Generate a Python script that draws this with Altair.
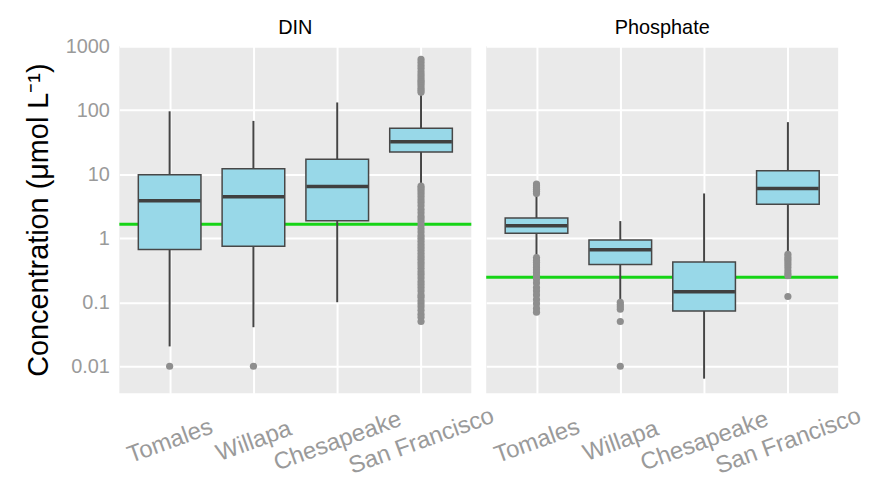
import altair as alt
import pandas as pd

sites = ["Tomales", "Willapa", "Chesapeake", "San Francisco"]
params = ["DIN", "Phosphate"]

# box statistics per parameter (order follows `sites`)
din_lo = [0.0204, 0.0407, 0.10, 6.9]
din_q1 = [0.665, 0.75, 1.87, 22.3]
din_med = [3.85, 4.45, 6.4, 32.0]
din_q3 = [9.8, 12.2, 17.1, 52.0]
din_hi = [96.0, 68.0, 132.0, 180.0]

po4_lo = [0.55, 0.112, 0.0064, 0.63]
po4_q1 = [1.19, 0.39, 0.073, 3.4]
po4_med = [1.57, 0.66, 0.146, 6.0]
po4_q3 = [2.06, 0.94, 0.425, 11.3]
po4_hi = [4.6, 1.85, 5.0, 65.0]

# outliers
din_out_tomales = [0.01]
din_out_willapa = [0.01]
din_out_chesapeake = []
din_out_sf = [620, 560, 500, 450, 400, 360, 330, 300, 280, 260, 240, 220, 205, 190,
              6.5, 6.0, 5.5, 5.0, 4.5, 4.0, 3.6, 3.2, 2.8, 2.5, 2.2, 2.0, 1.8, 1.6,
              1.4, 1.25, 1.1, 1.0, 0.9, 0.8, 0.72, 0.65, 0.58, 0.52, 0.47, 0.42,
              0.38, 0.34, 0.3, 0.27, 0.24, 0.21, 0.19, 0.17, 0.15, 0.13, 0.12,
              0.105, 0.095, 0.085, 0.075, 0.065, 0.058, 0.05]
po4_out_tomales = [7.0, 6.6, 6.2, 5.8, 5.4, 5.0,
                   0.5, 0.45, 0.42, 0.38, 0.35, 0.32, 0.29, 0.26, 0.23, 0.2, 0.17,
                   0.15, 0.13, 0.11, 0.095, 0.08, 0.07]
po4_out_willapa = [0.1, 0.092, 0.085, 0.078, 0.05, 0.01]
po4_out_chesapeake = []
po4_out_sf = [0.56, 0.51, 0.47, 0.43, 0.39, 0.35, 0.31, 0.28, 0.26, 0.123]

thresholds = [1.65, 0.245]

rows = []
stats = {"DIN": (din_lo, din_q1, din_med, din_q3, din_hi),
         "Phosphate": (po4_lo, po4_q1, po4_med, po4_q3, po4_hi)}
for p in params:
    lo, q1, med, q3, hi = stats[p]
    for i, s in enumerate(sites):
        rows.append(dict(kind="box", param=p, site=s, lo=lo[i], q1=q1[i],
                         med=med[i], q3=q3[i], hi=hi[i]))
outs = {("DIN", "Tomales"): din_out_tomales, ("DIN", "Willapa"): din_out_willapa,
        ("DIN", "Chesapeake"): din_out_chesapeake, ("DIN", "San Francisco"): din_out_sf,
        ("Phosphate", "Tomales"): po4_out_tomales, ("Phosphate", "Willapa"): po4_out_willapa,
        ("Phosphate", "Chesapeake"): po4_out_chesapeake,
        ("Phosphate", "San Francisco"): po4_out_sf}
for (p, s), vals in outs.items():
    for v in vals:
        rows.append(dict(kind="out", param=p, site=s, value=v))
for p, t in zip(params, thresholds):
    rows.append(dict(kind="thr", param=p, value=t))
df = pd.DataFrame(rows)

yscale = alt.Scale(type="log", domain=[0.0038, 1000], nice=False)
xenc = alt.X("site:N", sort=sites, scale=alt.Scale(type="point", padding=0.6),
             title=None,
             axis=alt.Axis(labelAngle=-20, labelAlign="center", labelBaseline="middle",
                           labelPadding=48, labelFontSize=24, labelColor="#9a9a9a",
                           ticks=False, domain=False, grid=True, gridColor="white",
                           gridWidth=2))
yaxis = alt.Axis(values=[0.01, 0.1, 1, 10, 100, 1000], labelExpr="toString(datum.value)",
                 labelFontSize=20, labelColor="#9a9a9a", ticks=False, domain=False,
                 grid=True, gridColor="white", gridWidth=2, labelPadding=8,
                 title="Concentration (μmol L⁻¹)", titleFontSize=29,
                 titleFontWeight="normal", titleColor="black", titlePadding=12)

thr = alt.Chart().mark_rule(color="#16d416", strokeWidth=3).encode(
    y=alt.Y("value:Q", scale=yscale, axis=yaxis)
).transform_filter(alt.datum.kind == "thr")

whisk = alt.Chart().mark_rule(color="#444444", strokeWidth=2).encode(
    x=xenc, y=alt.Y("lo:Q", scale=yscale), y2="hi:Q"
).transform_filter(alt.datum.kind == "box")

box = alt.Chart().mark_bar(size=63, fill="#98d8e8", stroke="#474747",
                           strokeWidth=1.5).encode(
    x=xenc, y=alt.Y("q1:Q", scale=yscale), y2="q3:Q"
).transform_filter(alt.datum.kind == "box")

med = alt.Chart().mark_tick(size=62, thickness=3.5, color="#404040", opacity=1).encode(
    x=xenc, y=alt.Y("med:Q", scale=yscale)
).transform_filter(alt.datum.kind == "box")

pts = alt.Chart().mark_circle(size=52, color="#8e8e8e", opacity=1).encode(
    x=xenc, y=alt.Y("value:Q", scale=yscale)
).transform_filter(alt.datum.kind == "out")

layered = alt.layer(thr, whisk, box, med, pts, data=df).properties(width=354, height=349)

chart = layered.facet(
    column=alt.Column("param:N", sort=params, title=None,
                      header=alt.Header(labelFontSize=20, labelColor="black",
                                        labelPadding=8, labelFont="Liberation Sans"))
).properties(spacing=11, background="white", padding={"left": 16, "top": 9, "right": 5, "bottom": 2}
).configure(font="Liberation Sans").configure_view(fill="#eaeaea", strokeWidth=0)

chart.save("out.html", embed_options={"renderer": "svg", "actions": False})
